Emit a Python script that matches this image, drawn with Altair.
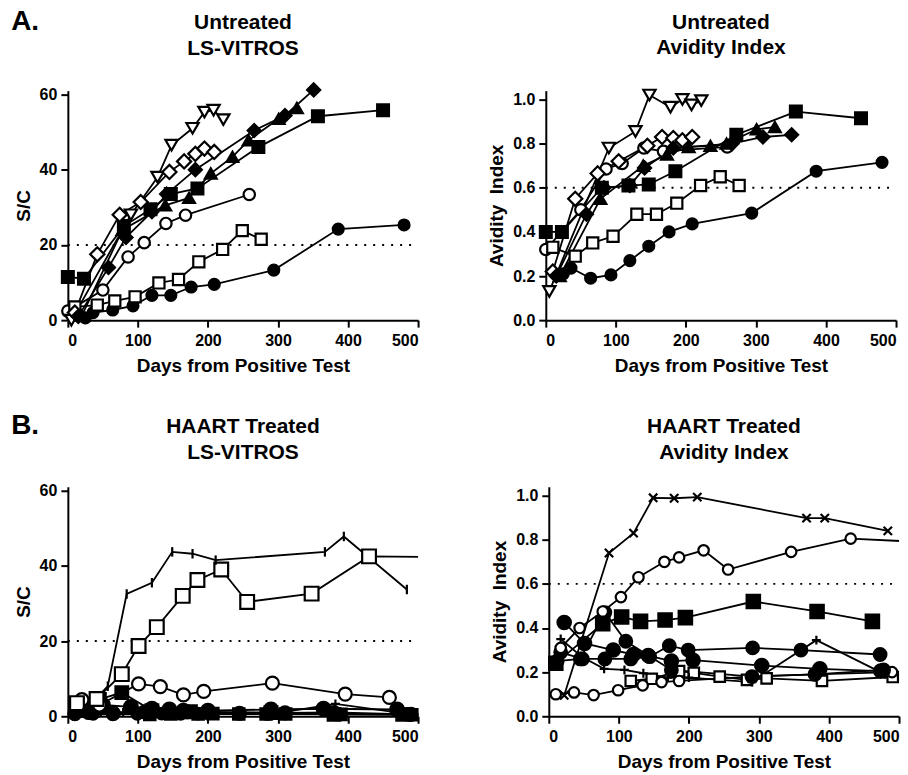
import altair as alt
import pandas as pd

# ------------------------------------------------------------------
# Untreated subjects (days from positive test, LS-VITROS S/C, avidity index)
# ------------------------------------------------------------------
U_FSQ_DAYS = [0, 23, 80, 118, 147, 185, 272, 357, 450]
U_FSQ_SC = [11.5, 11, 25, 29.5, 33.5, 35, 46, 54.2, 55.8]
U_FSQ_AI = [0.40, 0.40, 0.60, 0.61, 0.615, 0.675, 0.84, 0.945, 0.915]

U_OCI_DAYS = [0, 50, 86, 109, 140, 168, 259]
U_OCI_SC = [2.4, 8, 16.8, 20.6, 25.7, 27.9, 33.4]
U_OCI_AI = [0.32, 0.50, 0.685, 0.71, 0.78, 0.765, 0.785]

U_FCI_DAYS = [25, 36, 64, 93, 120, 147, 176, 209, 294, 386, 480]
U_FCI_SC = [0.6, 2.0, 2.7, 3.8, 6.6, 6.6, 8.8, 9.5, 13.3, 24.2, 25.3]
U_FCI_AI = [0.21, 0.236, 0.19, 0.205, 0.27, 0.335, 0.40, 0.436, 0.485, 0.675, 0.715]

U_OSQ_DAYS = [10, 42, 67, 96, 130, 158, 187, 221, 249, 276]
U_OSQ_SC = [3.5, 4.0, 5.1, 6.2, 9.9, 10.8, 15.5, 18.8, 23.8, 21.5]
U_OSQ_AI = [0.33, 0.29, 0.35, 0.38, 0.48, 0.48, 0.53, 0.61, 0.65, 0.61]

U_OTD_DAYS = [5, 90, 128, 148, 178, 195, 208, 222]
U_OTD_SC = [0.0, 28, 38, 46.5, 51, 55.3, 55.8, 53.3]
U_OTD_AI = [0.13, 0.78, 0.855, 1.02, 0.965, 1.0, 0.975, 0.995]

U_ODI_DAYS = [10, 42, 74, 104, 145, 166, 182, 195, 209]
U_ODI_SC = [2.0, 17.5, 28, 31.4, 39.4, 42.2, 44.2, 45.6, 44.7]
U_ODI_AI = [0.22, 0.55, 0.665, 0.72, 0.79, 0.83, 0.825, 0.815, 0.83]

U_FDI_DAYS = [15, 58, 83, 120, 141, 182, 266, 310, 351]
U_FDI_SC = [1.0, 14, 22, 28.8, 33.5, 40, 50.4, 54.4, 61.2]
U_FDI_AI = [0.20, 0.48, 0.60, 0.61, 0.69, 0.78, 0.80, 0.83, 0.84]

U_FTR_DAYS = [20, 78, 139, 173, 204, 235, 258, 301, 327]
U_FTR_SC = [1.2, 24, 30.5, 32.5, 39, 43.4, 47.8, 53.5, 56.4]
U_FTR_AI = [0.20, 0.55, 0.70, 0.75, 0.785, 0.79, 0.80, 0.865, 0.875]

# ------------------------------------------------------------------
# HAART treated subjects, LS-VITROS S/C
# ------------------------------------------------------------------
T_SC_A_DAYS = [22, 57, 84, 120, 149, 178, 211, 367, 394, 484]
T_SC_A_VAL = [1.0, 8.0, 32.5, 35.5, 43.7, 43.2, 41.5, 43.7, 47.8, 33.7]
T_SC_B_DAYS = [13, 41, 77, 101, 127, 164, 185, 219, 256, 348, 430, 530]
T_SC_B_VAL = [3.5, 4.6, 11.2, 18.7, 23.7, 32.0, 36.2, 39.0, 30.4, 32.6, 42.5, 42.3]
T_SC_C_DAYS = [20, 45, 101, 132, 165, 194, 292, 396, 459]
T_SC_C_VAL = [4.4, 3.0, 8.6, 7.9, 5.7, 6.6, 8.8, 5.9, 5.0]
T_SC_D_DAYS = [12, 45, 77, 120, 175, 290, 380, 478]
T_SC_D_VAL = [1.5, 4.5, 6.3, 1.5, 1.2, 1.0, 0.5, 0.5]
T_SC_E_DAYS = [10, 30, 65, 110, 145, 170, 200, 245, 285, 310, 380, 490]
T_SC_E_VAL = [0.8, 1.0, 0.8, 1.2, 1.5, 1.2, 1.0, 0.8, 0.8, 0.9, 1.0, 0.5]
T_SC_F_DAYS = [20, 50, 90, 120, 145, 165, 200, 290, 365, 470]
T_SC_F_VAL = [2.5, 3.0, 2.5, 2.0, 1.8, 1.5, 1.5, 1.8, 2.0, 1.8]
T_SC_G_DAYS = [17, 47, 79, 108, 135, 170, 200, 290, 382, 480]
T_SC_G_VAL = [1.5, 1.2, 1.0, 0.8, 0.7, 0.6, 0.6, 0.6, 3.3, 0.8]
T_SC_H_DAYS = [10, 36, 64, 99, 134, 161, 186, 290, 380, 490]
T_SC_H_VAL = [0.5, 0.6, 0.5, 0.6, 0.7, 0.6, 0.7, 0.8, 0.6, 0.5]
T_SC_I_DAYS = [117, 147, 186, 207, 244, 283, 311, 390, 491]
T_SC_I_VAL = [0.5, 0.6, 0.6, 0.7, 0.6, 0.6, 0.6, 0.5, 0.4]

# ------------------------------------------------------------------
# HAART treated subjects, avidity index
# ------------------------------------------------------------------
T_AI_A_DAYS = [22, 86, 121, 149, 179, 212, 368, 394, 484]
T_AI_A_VAL = [0.095, 0.74, 0.83, 0.99, 0.988, 0.993, 0.898, 0.898, 0.84]
T_AI_B_DAYS = [17, 44, 77, 103, 128, 165, 186, 221, 256, 346, 431, 530]
T_AI_B_VAL = [0.31, 0.40, 0.475, 0.54, 0.63, 0.70, 0.72, 0.752, 0.665, 0.745, 0.805, 0.79]
T_AI_C_DAYS = [10, 77, 104, 131, 166, 195, 292, 383, 462]
T_AI_C_VAL = [0.24, 0.42, 0.45, 0.43, 0.436, 0.447, 0.52, 0.475, 0.43]
T_AI_D_DAYS = [12, 45, 80, 110, 175, 290, 380, 478]
T_AI_D_VAL = [0.25, 0.26, 0.47, 0.34, 0.21, 0.18, 0.19, 0.21]
T_AI_E_DAYS = [22, 51, 92, 121, 142, 175, 206, 304, 387, 474]
T_AI_E_VAL = [0.425, 0.33, 0.30, 0.28, 0.275, 0.25, 0.254, 0.23, 0.215, 0.205]
T_AI_F_DAYS = [17, 48, 80, 117, 144, 172, 199, 291, 360, 473]
T_AI_F_VAL = [0.29, 0.26, 0.26, 0.26, 0.27, 0.32, 0.30, 0.31, 0.30, 0.28]
T_AI_G_DAYS = [17, 47, 79, 108, 135, 170, 200, 290, 382, 480]
T_AI_G_VAL = [0.35, 0.27, 0.215, 0.21, 0.195, 0.175, 0.175, 0.155, 0.345, 0.19]
T_AI_H_DAYS = [10, 36, 64, 99, 134, 161, 186, 290, 380, 490]
T_AI_H_VAL = [0.10, 0.108, 0.096, 0.118, 0.14, 0.155, 0.16, 0.18, 0.19, 0.20]
T_AI_I_DAYS = [117, 147, 186, 207, 244, 283, 311, 390, 491]
T_AI_I_VAL = [0.16, 0.17, 0.205, 0.197, 0.18, 0.165, 0.172, 0.16, 0.178]

# ------------------------------------------------------------------
# Marker styles (shape, fill, size)
# ------------------------------------------------------------------
TICK = "M0,-1L0,1"
XMARK = "M-1,-1L1,1M-1,1L1,-1"
PLUS = "M-1,0L1,0M0,-1L0,1"

UNT_STYLE = {
    "fsq": ("square", "black", 140),
    "oci": ("circle", "white", 130),
    "fci": ("circle", "black", 120),
    "osq": ("square", "white", 125),
    "otd": ("triangle-down", "white", 150),
    "odi": ("diamond", "white", 200),
    "fdi": ("diamond", "black", 170),
    "ftr": ("triangle-up", "black", 140),
}
TRT_STYLE_SC = {
    "A": (TICK, "black", 90),
    "B": ("square", "white", 190),
    "C": ("circle", "white", 170),
    "D": ("square", "black", 160),
    "E": ("circle", "black", 170),
    "F": ("circle", "black", 190),
    "G": (PLUS, "black", 80),
    "H": ("circle", "black", 130),
    "I": ("square", "black", 130),
}
TRT_STYLE_AI = {
    "A": (XMARK, "black", 70),
    "B": ("circle", "white", 110),
    "C": ("square", "black", 180),
    "D": ("circle", "black", 160),
    "E": ("circle", "black", 180),
    "F": ("circle", "black", 160),
    "G": (PLUS, "black", 80),
    "H": ("circle", "white", 110),
    "I": ("square", "white", 110),
}


def frame(series, styles):
    rows = []
    for name, days, vals in series:
        shp, fil, sz = styles[name]
        for d, v in zip(days, vals):
            rows.append({"subject": name, "day": d, "value": v,
                         "shape": shp, "fillc": fil, "sz": sz})
    return pd.DataFrame(rows)


unt_sc = frame([
    ("fsq", U_FSQ_DAYS, U_FSQ_SC), ("oci", U_OCI_DAYS, U_OCI_SC),
    ("fci", U_FCI_DAYS, U_FCI_SC), ("osq", U_OSQ_DAYS, U_OSQ_SC),
    ("otd", U_OTD_DAYS, U_OTD_SC), ("odi", U_ODI_DAYS, U_ODI_SC),
    ("fdi", U_FDI_DAYS, U_FDI_SC), ("ftr", U_FTR_DAYS, U_FTR_SC),
], UNT_STYLE)
unt_ai = frame([
    ("fsq", U_FSQ_DAYS, U_FSQ_AI), ("oci", U_OCI_DAYS, U_OCI_AI),
    ("fci", U_FCI_DAYS, U_FCI_AI), ("osq", U_OSQ_DAYS, U_OSQ_AI),
    ("otd", U_OTD_DAYS, U_OTD_AI), ("odi", U_ODI_DAYS, U_ODI_AI),
    ("fdi", U_FDI_DAYS, U_FDI_AI), ("ftr", U_FTR_DAYS, U_FTR_AI),
], UNT_STYLE)
trt_sc = frame([
    ("I", T_SC_I_DAYS, T_SC_I_VAL), ("H", T_SC_H_DAYS, T_SC_H_VAL),
    ("G", T_SC_G_DAYS, T_SC_G_VAL), ("F", T_SC_F_DAYS, T_SC_F_VAL),
    ("E", T_SC_E_DAYS, T_SC_E_VAL), ("D", T_SC_D_DAYS, T_SC_D_VAL),
    ("C", T_SC_C_DAYS, T_SC_C_VAL), ("B", T_SC_B_DAYS, T_SC_B_VAL),
    ("A", T_SC_A_DAYS, T_SC_A_VAL),
], TRT_STYLE_SC)
trt_ai = frame([
    ("I", T_AI_I_DAYS, T_AI_I_VAL), ("H", T_AI_H_DAYS, T_AI_H_VAL),
    ("G", T_AI_G_DAYS, T_AI_G_VAL), ("F", T_AI_F_DAYS, T_AI_F_VAL),
    ("E", T_AI_E_DAYS, T_AI_E_VAL), ("D", T_AI_D_DAYS, T_AI_D_VAL),
    ("C", T_AI_C_DAYS, T_AI_C_VAL), ("B", T_AI_B_DAYS, T_AI_B_VAL),
    ("A", T_AI_A_DAYS, T_AI_A_VAL),
], TRT_STYLE_AI)

W, H = 351, 230
FONT = "Liberation Sans"


def panel(df, title, ylab, ydom, yticks, yfmt, thresh, toff):
    x = alt.X("day:Q", scale=alt.Scale(domain=[0, 500], nice=False),
              axis=alt.Axis(values=[0, 100, 200, 300, 400, 500],
                            title="Days from Positive Test"))
    y = alt.Y("value:Q", scale=alt.Scale(domain=ydom, nice=False),
              axis=alt.Axis(values=yticks, format=yfmt, title=ylab))
    lines = alt.Chart(df).mark_line(color="black", strokeWidth=1.8, clip=True).encode(
        x=x, y=y, detail="subject:N", order="day:Q")
    pts = alt.Chart(df).transform_filter("datum.day <= 500").mark_point(
        filled=True, stroke="black", strokeWidth=2.2, opacity=1).encode(
        x=x, y=y,
        shape=alt.Shape("shape:N", scale=None),
        fill=alt.Fill("fillc:N", scale=None),
        size=alt.Size("sz:Q", scale=None))
    rule = alt.Chart(pd.DataFrame({"t": [0]})).mark_rule(
        color="black", strokeWidth=2, strokeDash=[2, 7]).encode(
        y=alt.datum(thresh), x=alt.datum(0), x2=alt.datum(500))
    return alt.layer(rule, lines, pts).properties(
        width=W, height=H,
        title=alt.TitleParams(title, offset=toff, lineHeight=26))


SC_TICKS = [0, 20, 40, 60]
AI_TICKS = [0, 0.2, 0.4, 0.6, 0.8, 1.0]
AI_LABEL = "Avidity\u00a0\u00a0Index"

a1 = panel(unt_sc, ["Untreated", "LS-VITROS"], "S/C", [0, 61], SC_TICKS, "d", 20, 20)
a2 = panel(unt_ai, ["Untreated", "Avidity Index"], AI_LABEL, [0, 1.04],
           AI_TICKS, ".1f", 0.6, 27)
b1 = panel(trt_sc, ["HAART Treated", "LS-VITROS"], "S/C", [0, 61], SC_TICKS, "d", 20, 20)
b2 = panel(trt_ai, ["HAART Treated", "Avidity Index"], AI_LABEL, [0, 1.04],
           AI_TICKS, ".1f", 0.6, 24)


def letter(txt):
    return alt.TitleParams(txt, anchor="start", fontSize=28, offset=0, dy=24, dx=-3)


row1 = alt.hconcat(a1, a2, spacing=68, title=letter("A."))
row2 = alt.hconcat(b1, b2, spacing=68, title=letter("B."))

chart = alt.vconcat(row1, row2, spacing=36).properties(
    padding={"left": 11, "top": 6, "right": 5, "bottom": 2}
).configure_axis(
    domainColor="black", domainWidth=2, tickColor="black", tickWidth=2, tickSize=7,
    labelFont=FONT, labelFontWeight="bold", labelFontSize=16, labelColor="black",
    titleFont=FONT, titleFontWeight="bold", titleFontSize=19,
    titleColor="black", grid=False
).configure_axisX(labelPadding=5, titlePadding=8
).configure_axisY(labelPadding=4, titlePadding=6
).configure_view(stroke=None).configure_title(
    font=FONT, fontSize=21, fontWeight="bold", color="black", anchor="middle"
)

chart.save("out.html", embed_options={"renderer": "svg", "actions": False})
